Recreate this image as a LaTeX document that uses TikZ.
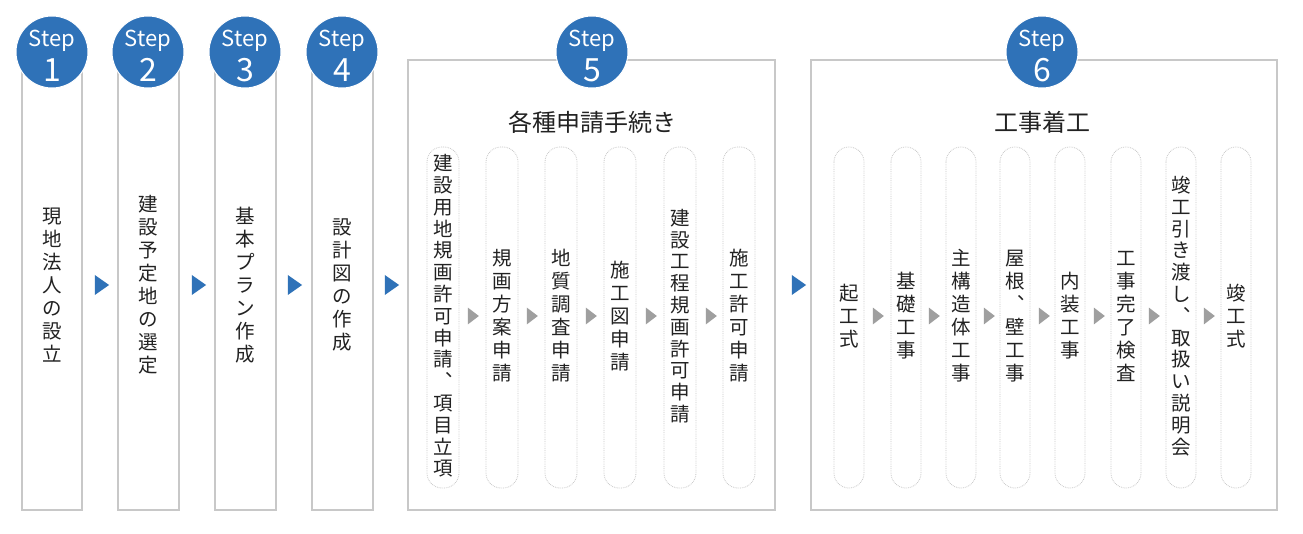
\documentclass[tikz,border=0pt]{standalone}
\usepackage{fontspec}
\setmainfont{Noto Sans CJK JP}
\usetikzlibrary{shapes.geometric}
\definecolor{stepblue}{HTML}{2F72B8}
\definecolor{boxgray}{HTML}{C8C8C8}
\definecolor{txt}{HTML}{222222}
\begin{document}
\begin{tikzpicture}[x=1pt,y=-1pt,
  col/.style={draw=boxgray,line width=1.5pt,fill=white},
  badge/.style={circle,fill=stepblue,draw=white,line width=1pt,minimum size=72pt,inner sep=0pt},
  steplbl/.style={text=white,inner sep=0pt,font=\fontsize{22}{22}\selectfont},
  stepnum/.style={text=white,inner sep=0pt,font=\fontsize{32}{32}\selectfont},
  vtext/.style={text=txt,align=center,font=\fontsize{19.5}{23}\selectfont,inner sep=0pt},
  pill/.style={draw=boxgray,densely dotted,line width=0.8pt,rounded corners=15pt,fill=white},
  barrow/.style={isosceles triangle,isosceles triangle apex angle=70,fill=stepblue,minimum height=14pt,minimum width=20pt,inner sep=0pt},
  garrow/.style={isosceles triangle,isosceles triangle apex angle=75,fill=gray!75,minimum height=11pt,minimum width=16pt,inner sep=0pt},
  title/.style={text=txt,font=\fontsize{24}{26}\selectfont}]
\useasboundingbox[fill=white] (0,0) rectangle (1303,534);
% columns
\draw[col] (22,70) rectangle (82,510);
\draw[col] (118,70) rectangle (179,510);
\draw[col] (215,70) rectangle (276,510);
\draw[col] (312,70) rectangle (373,510);
\draw[col] (408,60) rectangle (775,510);
\draw[col] (811,60) rectangle (1277,510);
% badges
\foreach \x/\n in {52/1,148/2,245/3,342/4,592/5,1042/6}{
  \node[badge] (s\n) at (\x,52) {};
  \node[steplbl] (sl\n) at (\x,41) {Step};
  \node[stepnum] (sn\n) at (\x,70) {\n};
}
% main column texts
\node[vtext] (t1) at (52,285) {現\\地\\法\\人\\の\\設\\立};
\node[vtext] (t2) at (148,285) {建\\設\\予\\定\\地\\の\\選\\定};
\node[vtext] (t3) at (245,285) {基\\本\\プ\\ラ\\ン\\作\\成};
\node[vtext] (t4) at (342,285) {設\\計\\図\\の\\作\\成};
% blue arrows
\node[barrow] (a1) at (100,285) {};
\node[barrow] (a2) at (197,285) {};
\node[barrow] (a3) at (293,285) {};
\node[barrow] (a4) at (390,285) {};
\node[barrow] (a5) at (797,285) {};
% titles
\node[title] (h5) at (592,122) {各種申請手続き};
\node[title] (h6) at (1042,122) {工事着工};
% step5 pills
\foreach \x in {443,502,561,620,680,739}{
  \draw[pill] (\x-16,147) rectangle (\x+16,488);
}
\node[vtext,font=\fontsize{19.5}{21.8}\selectfont] (p1) at (443,316) {建\\設\\用\\地\\規\\画\\許\\可\\申\\請\\︑\\項\\目\\立\\項};
\node[vtext] (p2) at (502,316) {規\\画\\方\\案\\申\\請};
\node[vtext] (p3) at (561,316) {地\\質\\調\\査\\申\\請};
\node[vtext] (p4) at (620,316) {施\\工\\図\\申\\請};
\node[vtext,font=\fontsize{19.5}{21.8}\selectfont] (p5) at (680,316) {建\\設\\工\\程\\規\\画\\許\\可\\申\\請};
\node[vtext] (p6) at (739,316) {施\\工\\許\\可\\申\\請};
\foreach \x in {472,531,590,650,710}{ \node[garrow] at (\x,316) {}; }
% step6 pills
\foreach \x in {849,906,961,1015,1070,1126,1181,1236}{
  \draw[pill] (\x-15,147) rectangle (\x+15,488);
}
\node[vtext] (q1) at (849,316) {起\\工\\式};
\node[vtext] (q2) at (906,316) {基\\礎\\工\\事};
\node[vtext] (q3) at (961,316) {主\\構\\造\\体\\工\\事};
\node[vtext] (q4) at (1015,316) {屋\\根\\︑\\壁\\工\\事};
\node[vtext] (q5) at (1070,316) {内\\装\\工\\事};
\node[vtext] (q6) at (1126,316) {工\\事\\完\\了\\検\\査};
\node[vtext,font=\fontsize{19.5}{21.8}\selectfont] (q7) at (1181,316) {竣\\工\\引\\き\\渡\\し\\︑\\取\\扱\\い\\説\\明\\会};
\node[vtext] (q8) at (1236,316) {竣\\工\\式};
\foreach \x in {877,933,988,1043,1098,1153,1208}{ \node[garrow] at (\x,316) {}; }
\end{tikzpicture}
\end{document}
